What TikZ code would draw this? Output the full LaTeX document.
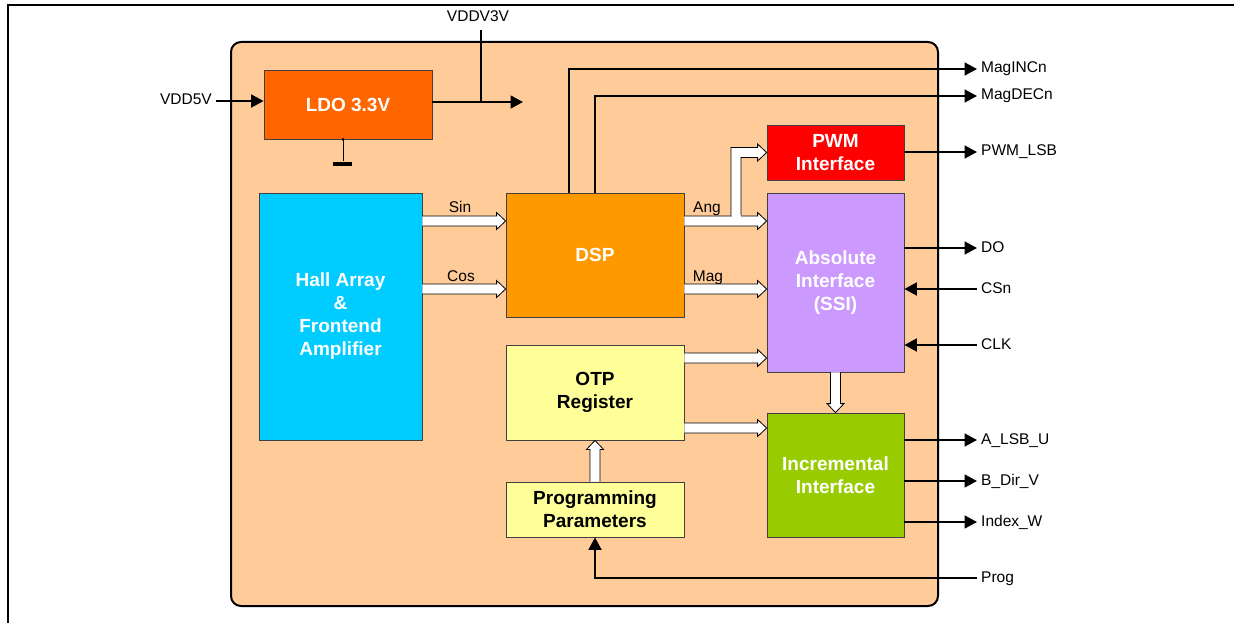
\documentclass[tikz,border=0pt]{standalone}
\usepackage{fontspec}
\setmainfont{Liberation Sans}
\usetikzlibrary{arrows.meta,calc,positioning}

\definecolor{chipbg}{HTML}{FFCC99}
\definecolor{ldocol}{HTML}{FF6600}
\definecolor{hallcol}{HTML}{00CCFF}
\definecolor{dspcol}{HTML}{FF9900}
\definecolor{otpcol}{HTML}{FFFF99}
\definecolor{pwmcol}{HTML}{FF0000}
\definecolor{abscol}{HTML}{CC99FF}
\definecolor{inccol}{HTML}{99CC00}

% wide white arrow from #1 to #2
\newcommand{\hollowarrow}[2]{%
  \coordinate (ha-s) at (#1);
  \coordinate (ha-t) at (#2);
  \coordinate (ha-h) at ($(ha-t)!9pt!(ha-s)$);
  \filldraw[hollow] ($(ha-s)!5pt!90:(ha-t)$) -- ($(ha-h)!5pt!90:(ha-t)$)
    -- ($(ha-h)!8.5pt!90:(ha-t)$) -- (ha-t) -- ($(ha-h)!8.5pt!-90:(ha-t)$)
    -- ($(ha-h)!5pt!-90:(ha-t)$) -- ($(ha-s)!5pt!-90:(ha-t)$);}

\begin{document}
\begin{tikzpicture}[x=1pt,y=-1pt,
  box/.style={draw=black!75,line width=0.8pt,inner sep=0pt,align=center,
    font=\fontsize{19}{23}\selectfont\bfseries},
  lbl/.style={inner sep=4pt,text height=11.5pt,text depth=3.5pt,
    font=\fontsize{15.5}{18}\selectfont},
  sig/.style={draw,line width=1.8pt,-{Triangle[length=12.5pt,width=13pt]}},
  hollow/.style={draw=black,fill=white,line width=0.8pt,line join=miter}]
\useasboundingbox (0,0) rectangle (1234,623);
% frame and chip
\draw[line width=2pt] (8,623) -- (8,5) -- (1234,5);
\draw[line width=2pt,fill=chipbg,rounded corners=10pt] (231,42) rectangle (938,606);

% blocks
\node[box,fill=ldocol,text=white,minimum width=168pt,minimum height=69pt] (ldo) at (348,104.5) {LDO 3.3V};
\node[box,fill=hallcol,text=white,minimum width=163pt,minimum height=247pt] (hall) at (340.5,316.5) {Hall Array\\\&\\Frontend\\Amplifier};
\node[box,fill=dspcol,text=white,minimum width=178pt,minimum height=124pt] (dsp) at (595,255) {DSP};
\node[box,fill=otpcol,minimum width=178pt,minimum height=95pt] (otp) at (595,392.5) {OTP\\Register};
\node[box,fill=otpcol,minimum width=178pt,minimum height=55pt] (param) at (595,509.5) {Programming\\Parameters};
\node[box,fill=pwmcol,text=white,minimum width=137pt,minimum height=55pt] (pwm) at (835.5,152.5) {PWM\\Interface};
\node[box,fill=abscol,text=white,minimum width=137pt,minimum height=179pt] (abs) at (835.5,282.5) {Absolute\\Interface\\(SSI)};
\node[box,fill=inccol,text=white,minimum width=137pt,minimum height=124pt] (inc) at (835.5,475) {Incremental\\Interface};

% supply
\node[lbl] (vddin) at (186,101) {VDD5V};
\draw[sig] (vddin.east) -- (ldo.west |- vddin.east);
\coordinate (vddend) at (523,102);
\draw[sig] (ldo.east |- vddend) -- (vddend);
\node[lbl] (vddout) at (478,18) {VDDV3V};
\coordinate (tap) at (481,102);
\draw[line width=1.8pt] (tap) -- (tap |- vddout.south);
\coordinate (gnd) at ($(ldo.south)+(-5,0)$);
\fill (gnd) circle (1.5pt);
\draw[line width=0.8pt] (gnd) -- ++(0,22);
\fill ($(gnd)+(-10,23)$) rectangle ($(gnd)+(9,27)$);

% data paths
\node[lbl] (sin) at (460,208) {Sin};
\node[lbl] (cos) at (461,277) {Cos};
\node[lbl] (ang) at (707,208) {Ang};
\node[lbl] (mag) at (708,277) {Mag};
\hollowarrow{hall.east |- 0,221}{dsp.west |- 0,221}
\hollowarrow{hall.east |- 0,289}{dsp.west |- 0,289}
\hollowarrow{dsp.east |- 0,221}{abs.west |- 0,221}
\hollowarrow{dsp.east |- 0,289}{abs.west |- 0,289}
\coordinate (fork) at (736,221);
\filldraw[hollow] ($(fork)+(-5,-5)$) -- ($(fork |- pwm.west)+(-5,-5)$) -- ($(pwm.west)+(-9,-5)$)
  -- ($(pwm.west)+(-9,-8.5)$) -- (pwm.west) -- ($(pwm.west)+(-9,8.5)$) -- ($(pwm.west)+(-9,5)$)
  -- ($(fork |- pwm.west)+(5,5)$) -- ($(fork)+(5,-5)$);
\fill[white] ($(fork)+(-4.5,-6)$) rectangle ($(fork)+(4.5,-3)$);
\hollowarrow{otp.east |- 0,358}{abs.west |- 0,358}
\hollowarrow{otp.east |- 0,428}{inc.west |- 0,428}
\hollowarrow{abs.south}{inc.north}
\hollowarrow{param.north}{otp.south}

% pins
\node[lbl,anchor=west] (maginc) at (977,69) {MagINCn};
\node[lbl,anchor=west] (magdec) at (977,96) {MagDECn};
\node[lbl,anchor=west] (pwmlsb) at (977,152) {PWM\_LSB};
\node[lbl,anchor=west] (dout) at (977,248) {DO};
\node[lbl,anchor=west] (csn) at (977,289) {CSn};
\node[lbl,anchor=west] (clk) at (977,345) {CLK};
\node[lbl,anchor=west] (alsb) at (977,440) {A\_LSB\_U};
\node[lbl,anchor=west] (bdir) at (977,481) {B\_Dir\_V};
\node[lbl,anchor=west] (index) at (977,522) {Index\_W};
\node[lbl,anchor=west] (progin) at (977,578) {Prog};
\draw[sig] ($(dsp.north)+(-26,0)$) |- (maginc.west);
\draw[sig] (dsp.north) |- (magdec.west);
\draw[sig] (pwm.east |- pwmlsb.west) -- (pwmlsb.west);
\draw[sig] (abs.east |- dout.west) -- (dout.west);
\draw[sig] (csn.west) -- (abs.east |- csn.west);
\draw[sig] (clk.west) -- (abs.east |- clk.west);
\draw[sig] (inc.east |- alsb.west) -- (alsb.west);
\draw[sig] (inc.east |- bdir.west) -- (bdir.west);
\draw[sig] (inc.east |- index.west) -- (index.west);
\draw[sig] (progin.west) -| (param.south);
\end{tikzpicture}
\end{document}
